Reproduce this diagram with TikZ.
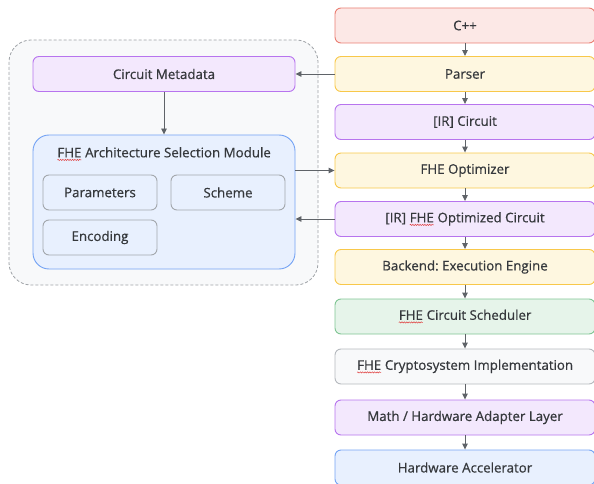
\documentclass[tikz,border=0pt]{standalone}
\usepackage{fontspec}
\setmainfont{Open Sans}
\newfontfamily\labelfont{Open Sans}[FakeBold=0.6]
\usetikzlibrary{arrows.meta,decorations.pathmorphing}
\frenchspacing
\definecolor{txt}{HTML}{35383C}
\definecolor{arrowc}{HTML}{5F6368}
\definecolor{redF}{HTML}{FCE8E6}\definecolor{redD}{HTML}{EA7E72}
\definecolor{yelF}{HTML}{FEF7E0}\definecolor{yelD}{HTML}{F8C84A}
\definecolor{purF}{HTML}{F3E8FD}\definecolor{purD}{HTML}{B774EE}
\definecolor{grnF}{HTML}{E6F4EA}\definecolor{grnD}{HTML}{7FC593}
\definecolor{gryF}{HTML}{F8F9FA}\definecolor{gryD}{HTML}{B5B9BE}
\definecolor{bluF}{HTML}{E8F0FE}\definecolor{bluD}{HTML}{74A3F4}
\definecolor{subD}{HTML}{A3A7AC}
\definecolor{outD}{HTML}{9EA2A6}
\definecolor{spellc}{HTML}{E04040}
% red wavy underline of a word
\newcommand\spellmark[1]{\tikz[baseline=(w.base)]{\node[inner sep=0pt,outer sep=0pt,minimum width=0pt,minimum height=0pt,draw=none,fill=none,sharp corners] (w) {#1};
  \draw[spellc,line width=0.5pt,sharp corners,decorate,decoration={snake,amplitude=0.6pt,segment length=2.4pt}]
    ([yshift=-2.6pt]w.south west) -- ([yshift=-2.6pt]w.south east);}}
\begin{document}
\begin{tikzpicture}[x=1pt,y=-1pt,
  every node/.style={font=\labelfont\fontsize{13.3}{15}\selectfont, text=txt},
  stage/.style={draw, rounded corners=6pt, line width=0.9pt, minimum width=260pt, minimum height=35pt, inner sep=0pt},
  subbox/.style={draw=subD, fill=bluF, rounded corners=6pt, line width=0.9pt, minimum width=114pt, minimum height=35pt, inner sep=0pt},
  arr/.style={draw=arrowc, line width=0.9pt, -{Triangle[length=6pt,width=5.5pt]}, color=arrowc}]
\useasboundingbox (0,0) rectangle (594,484);

% dashed container of the selection side
\draw[outD, fill=gryF, dash pattern=on 3pt off 2pt, line width=0.8pt, rounded corners=22pt]
  (9,40) rectangle (318,285);

\node[stage, draw=purD, fill=purF, minimum width=262pt] (meta) at (164,74) {Circuit Metadata};
\node[draw=bluD, fill=bluF, line width=0.9pt, rounded corners=16pt, minimum width=262pt, minimum height=134pt, inner sep=0pt] (mod) at (164,202) {};
\node (modtitle) at (164,154) {\spellmark{FHE} Architecture Selection Module};
\node[subbox] (par) at (100,192.5) {Parameters};
\node[subbox] (sch) at (228,192.5) {Scheme};
\node[subbox] (enc) at (100,237.5) {Encoding};

% compilation pipeline
\node[stage, draw=redD, fill=redF] (cpp) at (465,25.5) {C++};
\node[stage, draw=yelD, fill=yelF] (parser) at (465,74) {Parser};
\node[stage, draw=purD, fill=purF] (ir) at (465,122) {[IR] Circuit};
\node[stage, draw=yelD, fill=yelF] (opt) at (465,170.5) {FHE Optimizer};
\node[stage, draw=purD, fill=purF] (iropt) at (465,219) {[IR] \spellmark{FHE} Optimized Circuit};
\node[stage, draw=yelD, fill=yelF] (back) at (465,267) {Backend: Execution Engine};
\node[stage, draw=grnD, fill=grnF] (sched) at (465,316.5) {\spellmark{FHE} Circuit Scheduler};
\node[stage, draw=gryD, fill=gryF] (crypto) at (465,366.5) {\spellmark{FHE} Cryptosystem Implementation};
\node[stage, draw=purD, fill=purF] (math) at (465,417.5) {Math / Hardware Adapter Layer};
\node[stage, draw=bluD, fill=bluF] (hw) at (465,467.5) {Hardware Accelerator};

\draw[arr] (cpp) -- (parser);
\draw[arr] (parser) -- (ir);
\draw[arr] (ir) -- (opt);
\draw[arr] (opt) -- (iropt);
\draw[arr] (iropt) -- (back);
\draw[arr] (back) -- (sched);
\draw[arr] (sched) -- (crypto);
\draw[arr] (crypto) -- (math);
\draw[arr] (math) -- (hw);

\draw[arr] (parser.west) -- (meta.east);
\draw[arr] (meta.south) -- (mod.north);
\draw[arr] (mod.east |- opt.west) -- (opt.west);
\draw[arr] (iropt.west) -- (mod.east |- iropt.west);
\end{tikzpicture}
\end{document}
